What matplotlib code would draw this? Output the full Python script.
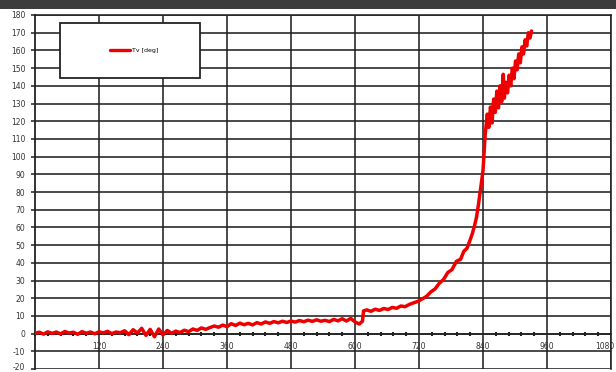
import matplotlib
matplotlib.use("Agg")
import matplotlib.pyplot as plt
from matplotlib.patches import Rectangle
from matplotlib.ticker import MultipleLocator, FixedLocator
from matplotlib.transforms import ScaledTranslation

# measured temperature trace
time_s = [
    0, 8, 16, 24, 32, 40, 48, 56, 64, 72, 80, 88, 96, 104, 112, 120, 128, 136,
    144, 152, 160, 168, 176, 184, 192, 200, 208, 216, 224, 232, 240, 248, 256,
    264, 272, 280, 288, 296, 304, 312, 320, 328, 336, 344, 352, 360, 368, 376,
    384, 392, 400, 408, 416, 424, 432, 440, 448, 456, 464, 472, 480, 488, 496,
    504, 512, 520, 528, 536, 544, 552, 560, 568, 576, 584, 592, 600, 608, 614,
    616, 622, 630, 638, 646, 654, 662, 670, 678, 686, 694, 702, 710, 718, 726,
    734, 742, 750, 758, 766, 774, 782, 790, 798, 804, 810, 816, 820, 824, 828,
    832, 836, 840, 842, 844, 846, 848, 851, 854, 857, 860, 863, 866, 869, 872,
    875, 878, 880, 883, 886, 889, 892, 895, 898, 901, 904, 907, 910, 913, 916,
    919, 922, 925, 928, 931,
]
temp_deg = [
    0.2, 0.8, -0.3, 1.0, 0.1, 0.9, -0.2, 1.2, 0.3, 0.8, -0.4, 1.1, 0.2, 0.9,
    -0.1, 1.0, 0.4, 1.3, 0.0, 0.9, 0.5, 1.6, -0.6, 2.2, 0.3, 3.0, -1.0, 2.4,
    -1.8, 2.6, -0.8, 1.8, 0.2, 1.4, 0.6, 1.9, 1.1, 2.6, 1.8, 3.2, 2.4, 3.4,
    4.3, 3.6, 4.8, 3.9, 5.6, 4.6, 5.9, 5.0, 5.8, 4.9, 6.2, 5.4, 6.6, 5.8, 6.8,
    6.1, 7.0, 6.3, 7.1, 6.5, 7.4, 6.7, 7.6, 6.9, 7.8, 7.0, 7.5, 6.8, 8.0, 7.2,
    8.4, 7.1, 8.6, 6.6, 5.4, 7.0,
    12.8, 13.4, 12.6, 13.8, 13.1, 14.2, 13.6, 14.8, 14.3, 15.6, 15.2, 16.5,
    17.4, 18.2, 19.6, 21.0, 23.5, 25.2, 28.4, 30.6, 34.5, 36.2, 40.8, 42.0,
    46.5, 48.2, 53.0, 56.5, 60.8, 66.0, 74.0, 83.0, 92.0, 102.0, 112.0, 118.0,
    124.0, 116.5, 128.0, 119.0, 132.5, 125.0, 137.0, 127.5, 140.0, 131.0,
    146.5, 133.0, 142.0, 136.0, 146.0, 140.0, 150.0, 144.0, 154.0, 149.0,
    158.0, 153.0, 162.0, 158.0, 166.0, 162.5, 170.0, 167.0, 171.0,
]
series_label = "Tv [deg]"

x_ticks = [120, 240, 360, 480, 600, 720, 840, 960, 1080]
y_ticks = list(range(-20, 181, 10))

fig = plt.figure(figsize=(6.16, 3.72), dpi=100)
fig.patch.set_facecolor("white")

# dark strip along the top edge
fig.add_artist(Rectangle((0, 1 - 9 / 372), 1, 9 / 372, transform=fig.transFigure,
                         facecolor="#3c3c3c", edgecolor="none", zorder=0))

ax_bottom_px, ax_top_px = 369.0, 15.0
ax_h_px = ax_bottom_px - ax_top_px
ax = fig.add_axes([35 / 616, 1 - ax_bottom_px / 372, 576 / 616, ax_h_px / 372])
ax.set_xlim(0, 1080)
ax.set_ylim(-20, 180)

grid_col = "#222222"
ax.grid(True, which="major", color=grid_col, linewidth=1.15)
ax.set_axisbelow(True)

ax.plot(time_s, temp_deg, color="#ee0000", linewidth=2.5, zorder=3,
        label=series_label, solid_joinstyle="round", solid_capstyle="round")

# axis line through zero with small crossing ticks
for side in ("top", "right"):
    ax.spines[side].set_color(grid_col)
    ax.spines[side].set_linewidth(1.15)
ax.spines["left"].set_color(grid_col)
ax.spines["left"].set_linewidth(1.3)
ax.spines["bottom"].set_position(("data", 0))
ax.spines["bottom"].set_color(grid_col)
ax.spines["bottom"].set_linewidth(1.15)

ax.xaxis.set_major_locator(FixedLocator(x_ticks))
ax.xaxis.set_minor_locator(MultipleLocator(24))
ax.set_xticklabels([str(v) for v in x_ticks])
ax.tick_params(axis="x", which="major", length=0, pad=6, labelsize=5.5,
               labelcolor="#333333")
ax.tick_params(axis="x", which="minor", length=3, width=1.5, direction="inout",
               color=grid_col)
# keep the last x label inside the figure
last = ax.get_xticklabels()[-1]
last.set_transform(last.get_transform() + ScaledTranslation(-6 / 100, 0, fig.dpi_scale_trans))

ax.yaxis.set_major_locator(FixedLocator(y_ticks))
ax.set_yticklabels([str(v) for v in y_ticks])
ax.tick_params(axis="y", which="major", length=3, width=1.1, color=grid_col,
               pad=4, labelsize=5.5, labelcolor="#333333")
# keep the lowest y label inside the figure
first = ax.get_yticklabels()[0]
first.set_transform(first.get_transform() + ScaledTranslation(0, 3 / 100, fig.dpi_scale_trans))

# legend box
ax.add_patch(Rectangle((25 / 576, 1 - 63 / ax_h_px), 140 / 576, 55 / ax_h_px,
                       transform=ax.transAxes, facecolor="white",
                       edgecolor=grid_col, linewidth=1.3, zorder=5))
leg = ax.legend(loc="center", bbox_to_anchor=(0.172, 1 - 35.5 / ax_h_px),
                frameon=False, fontsize=4.5, handlelength=3.2,
                handletextpad=0.3, borderpad=0)
leg.set_zorder(6)
leg.get_lines()[0].set_linewidth(2.4)

fig.savefig("out.png", dpi=100, facecolor="white")
